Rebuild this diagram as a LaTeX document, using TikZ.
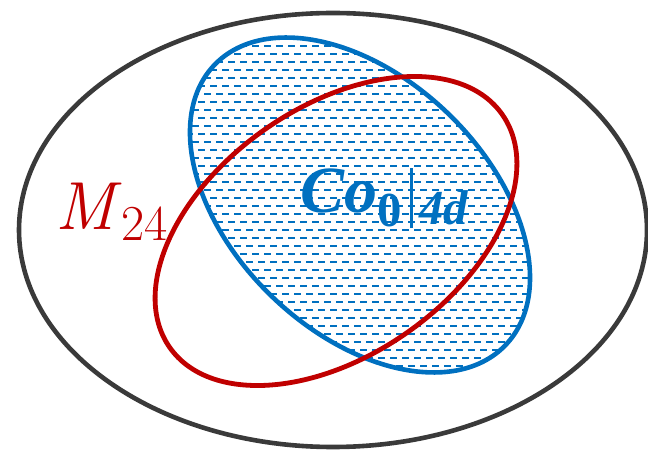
\documentclass[tikz,border=0pt]{standalone}
\usepackage{graphicx}
\usepackage{fontspec}
\newfontfamily\labelfont{Liberation Serif}
\usetikzlibrary{positioning}
\definecolor{frameGray}{HTML}{3A3A3A}
\definecolor{coBlue}{HTML}{0070C0}
\definecolor{mRed}{HTML}{C00000}
\tikzset{
    universe/.style={draw=frameGray,line width=2.3pt},
    coset/.style={draw=coBlue,line width=2.3pt},
    mset/.style={draw=mRed,line width=2.4pt},
    hatchrow/.style={draw=coBlue,line width=1.2pt,dash pattern=on 3.5pt off 2.5pt},
    setlabel/.style={inner sep=0pt,anchor=base west,font=\fontsize{34}{40}\selectfont}
}
\newcommand{\lowsub}[2]{\raisebox{#1}{\scalebox{0.74}{#2}}}
\begin{document}
\begin{tikzpicture}[x=0.5pt,y=0.5pt]
    \useasboundingbox (0,0) rectangle (648,450);
    % outer set
    \draw[universe] (333,220) ellipse [x radius=314,y radius=217];
    % hatched Co_0 region
    \begin{scope}
        \clip (360,245) ellipse [x radius=202,y radius=127,rotate=-44];
        \foreach \row [count=\i] in {44,52,...,420}{
            \ifodd\i
                \draw[hatchrow] (150,\row) -- (560,\row);
            \else
                \draw[hatchrow,dash phase=3pt] (150,\row) -- (560,\row);
            \fi
        }
    \end{scope}
    \draw[coset] (360,245) ellipse [x radius=202,y radius=127,rotate=-44];
    \draw[mset] (336,219) ellipse [x radius=203,y radius=124,rotate=35];
    % labels
    \node[setlabel,text=mRed] (mlabel) at (55,220) {\textit{M}\lowsub{-5pt}{24}};
    \node[setlabel,text=coBlue,font=\labelfont\fontsize{33}{38}\selectfont\bfseries] (colabel) at (300,237)
        {\textit{Co}\lowsub{-7pt}{0}\hspace{4pt}\rule[-7.5pt]{1.6pt}{30pt}\hspace{3pt}\lowsub{-6pt}{\textit{4d}}};
\end{tikzpicture}
\end{document}
